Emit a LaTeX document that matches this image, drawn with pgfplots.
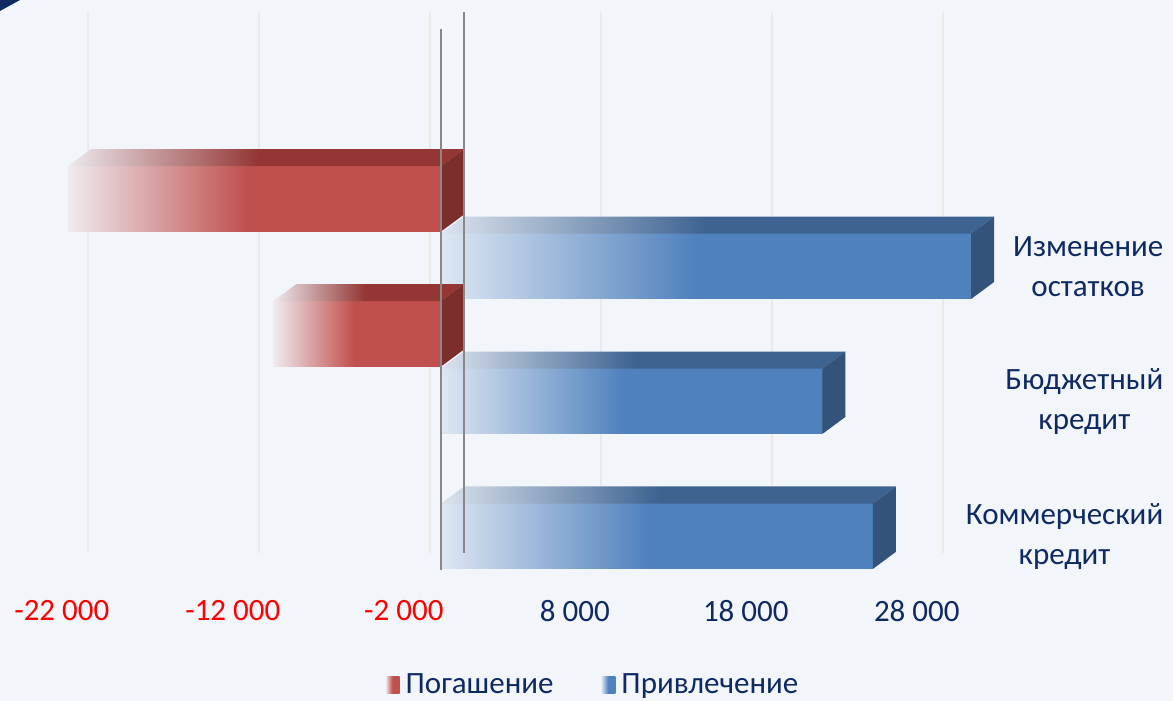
\documentclass[border=0pt]{standalone}
\usepackage{fontspec}
\setmainfont{Carlito}
\usepackage{pgfplots}
\pgfplotsset{compat=1.18}

\definecolor{bg}{HTML}{F2F5FA}
\definecolor{redfront}{HTML}{C0504D}
\definecolor{redtop}{HTML}{943634}
\definecolor{redside}{HTML}{7B2E2C}
\definecolor{bluefront}{HTML}{4F81BD}
\definecolor{bluetop}{HTML}{3D6391}
\definecolor{blueside}{HTML}{33537B}
\definecolor{navy}{HTML}{0F2A63}
\definecolor{tickred}{HTML}{FF0000}
\definecolor{gridc}{HTML}{ECEAE9}
\definecolor{zeroc}{HTML}{888888}
\colorlet{redfrontL}{redfront!6!bg}
\colorlet{redtopL}{redtop!6!bg}
\colorlet{bluefrontL}{bluefront!12!bg}
\colorlet{bluetopL}{bluetop!12!bg}

% 100bp shadings, the bar covers 25bp..75bp
\pgfdeclarehorizontalshading{redF}{100bp}{color(0bp)=(redfrontL); color(25bp)=(redfrontL); color(49bp)=(redfront); color(100bp)=(redfront)}
\pgfdeclarehorizontalshading{redT}{100bp}{color(0bp)=(redtopL); color(25bp)=(redtopL); color(49bp)=(redtop); color(100bp)=(redtop)}
\pgfdeclarehorizontalshading{blueF}{100bp}{color(0bp)=(bluefrontL); color(25bp)=(bluefrontL); color(49bp)=(bluefront); color(100bp)=(bluefront)}
\pgfdeclarehorizontalshading{blueT}{100bp}{color(0bp)=(bluetopL); color(25bp)=(bluetopL); color(49bp)=(bluetop); color(100bp)=(bluetop)}

\begin{document}
\begin{tikzpicture}
\fill[bg] (0,0) rectangle (586.5pt,350.5pt);
\fill[navy] (0,350.5pt) -- (10pt,350.5pt) -- (0,345pt) -- cycle;
\begin{axis}[
    at={(15.3pt,65.5pt)}, anchor=south west,
    scale only axis, width=487.35pt, height=270pt,
    xmin=-24000, xmax=33000, ymin=0, ymax=8,
    clip=false,
    axis line style={draw=none},
    major tick length=0pt,
    scaled x ticks=false,
    every tick label/.append style={font=\fontsize{15.5}{20}\selectfont},
    xtick={-22000,-12000,-2000,8000,18000,28000},
    xticklabels={\textcolor{tickred}{-22 000},\textcolor{tickred}{-12 000},\textcolor{tickred}{-2 000},
                 \textcolor{navy}{8 000},\textcolor{navy}{18 000},\textcolor{navy}{28 000}},
    xticklabel style={anchor=center, yshift=-20.5pt, xshift=-1.5pt},
    ytick={0.5,2.5,4.5},
    yticklabels={{Коммерческий\\кредит},{Бюджетный\\кредит},{Изменение\\остатков}},
    yticklabel pos=right,
    yticklabel style={anchor=east, xshift=82.5pt, align=center, text=navy},
    legend style={at={(0.578,-0.213)}, anchor=center, draw=none, fill=none,
        legend columns=2, text=navy, font=\fontsize{15.5}{20}\selectfont,
        /tikz/every odd column/.append style={column sep=1pt},
        /tikz/every even column/.append style={column sep=22pt}},
]
% back gridlines
\addplot[forget plot, gridc, line width=1pt] coordinates {(-20655,0.252) (-20655,8.27)};
\addplot[forget plot, gridc, line width=1pt] coordinates {(-10655,0.252) (-10655,8.27)};
\addplot[forget plot, gridc, line width=1pt] coordinates {(-655,0.252) (-655,8.27)};
\addplot[forget plot, gridc, line width=1pt] coordinates {(9345,0.252) (9345,8.27)};
\addplot[forget plot, gridc, line width=1pt] coordinates {(19345,0.252) (19345,8.27)};
\addplot[forget plot, gridc, line width=1pt] coordinates {(29345,0.252) (29345,8.27)};

% Изменение остатков: погашение
\addplot[xbar, bar width=0.97, bar shift=0, draw=none, shading=redF,
    legend image code/.code={\shade[shading=redF] (0pt,-4.3pt) rectangle (7pt,4.3pt);}]
    coordinates {(-21800,5.5)};
\addlegendentry{Погашение}
\addplot[forget plot, draw=none, shading=redT] coordinates {(-21800,5.985) (-20455,6.237) (1345,6.237) (0,5.985)};
\addplot[forget plot, draw=none, fill=redside] coordinates {(0,5.015) (0,5.985) (1345,6.237) (1345,5.267)};

% Изменение остатков: привлечение
\addplot[xbar, bar width=0.97, bar shift=0, draw=none, shading=blueF,
    legend image code/.code={\shade[shading=blueF] (0pt,-4.3pt) rectangle (7pt,4.3pt);}]
    coordinates {(31000,4.5)};
\addlegendentry{Привлечение}
\addplot[forget plot, draw=none, shading=blueT] coordinates {(0,4.985) (1345,5.237) (32345,5.237) (31000,4.985)};
\addplot[forget plot, draw=none, fill=blueside] coordinates {(31000,4.015) (31000,4.985) (32345,5.237) (32345,4.267)};

% Бюджетный кредит: погашение
\addplot[forget plot, xbar, bar width=0.97, bar shift=0, draw=none, shading=redF] coordinates {(-9800,3.5)};
\addplot[forget plot, draw=none, shading=redT] coordinates {(-9800,3.985) (-8455,4.237) (1345,4.237) (0,3.985)};
\addplot[forget plot, draw=none, fill=redside] coordinates {(0,3.015) (0,3.985) (1345,4.237) (1345,3.267)};

% Бюджетный кредит: привлечение
\addplot[forget plot, xbar, bar width=0.97, bar shift=0, draw=none, shading=blueF] coordinates {(22300,2.5)};
\addplot[forget plot, draw=none, shading=blueT] coordinates {(0,2.985) (1345,3.237) (23645,3.237) (22300,2.985)};
\addplot[forget plot, draw=none, fill=blueside] coordinates {(22300,2.015) (22300,2.985) (23645,3.237) (23645,2.267)};

% Коммерческий кредит: привлечение
\addplot[forget plot, xbar, bar width=0.97, bar shift=0, draw=none, shading=blueF] coordinates {(25250,0.5)};
\addplot[forget plot, draw=none, shading=blueT] coordinates {(0,0.985) (1345,1.237) (26595,1.237) (25250,0.985)};
\addplot[forget plot, draw=none, fill=blueside] coordinates {(25250,0.015) (25250,0.985) (26595,1.237) (26595,0.267)};

% zero lines (front and back wall)
\addplot[forget plot, zeroc, line width=1.2pt] coordinates {(0,0) (0,8.01)};
\addplot[forget plot, zeroc, line width=1.2pt] coordinates {(1345,0.252) (1345,8.27)};
\end{axis}
\pgfresetboundingbox
\useasboundingbox (0,0) rectangle (586.5pt,350.5pt);
\end{tikzpicture}
\end{document}
